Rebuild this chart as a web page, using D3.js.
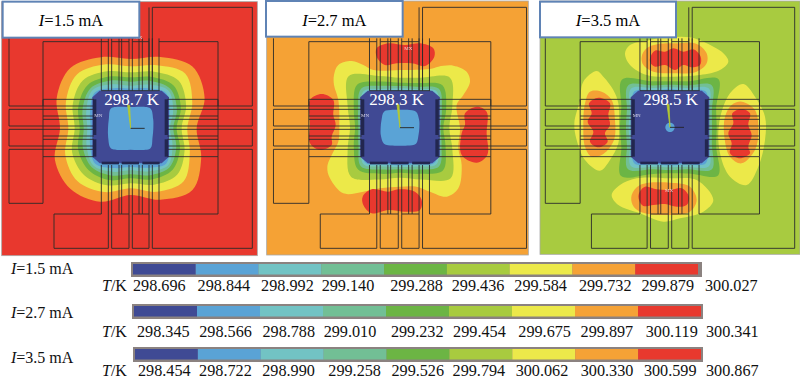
<!DOCTYPE html>
<html>
<head>
    <meta charset="utf-8">
    <title>Temperature fields</title>
    <script src="https://d3js.org/d3.v7.min.js"></script>
    <style>
        html, body { margin: 0; padding: 0; background: #fff; overflow: hidden; }
        text { font-family: "Liberation Serif", serif; }
    </style>
</head>
<body>
    <div id="chart"></div>
    <script>

        var bandColors = ["#3f4a94", "#5aa3d6", "#72c3c4", "#72bf95", "#6cb544", "#a8cb3f", "#ece94a", "#f5a236", "#e8392e"];

        var currents = ["1.5", "2.7", "3.5"];
        var minTemps = ["298.7 K", "298.3 K", "298.5 K"];

        var ticks15 = ["298.696", "298.844", "298.992", "299.140", "299.288", "299.436", "299.584", "299.732", "299.879", "300.027"];
        var ticks27 = ["298.345", "298.566", "298.788", "299.010", "299.232", "299.454", "299.675", "299.897", "300.119", "300.341"];
        var ticks35 = ["298.454", "298.722", "298.990", "299.258", "299.526", "299.794", "300.062", "300.330", "300.599", "300.867"];

        // isotherms: radius at 16 angles, clockwise from the top
        var rings15 = [
            [7, [208,232,262,240,198,229,262,232,200,238,256,246,212,240,256,231]],
            [6, [186,205,232,200,170,192,225,206,180,207,225,212,187,210,228,207]],
            [5, [168,184,203,180,153,175,197,183,165,185,198,190,168,188,203,185]],
            [4, [153,167,182,163,138,160,177,166,150,168,178,170,153,170,183,168]],
            [3, [140,154,168,150,128,148,165,152,138,153,165,155,141,156,170,155]],
            [2, [128,142,160,138,118,136,158,140,126,141,158,143,130,144,162,143]],
            [1, [119,130,150,127,112,126,150,128,116,129,150,132,120,132,152,130]]
        ];
        var rings27 = [
            [5, [150,162,212,170,148,170,215,168,150,168,208,170,150,170,218,168]],
            [4, [135,145,180,150,130,148,182,150,135,150,178,150,135,150,182,150]],
            [3, [125,133,165,136,122,135,165,136,125,136,165,135,125,136,165,136]],
            [2, [118,125,155,126,116,125,155,126,118,126,155,125,118,126,155,126]],
            [1, [113,119,148,119,111,118,148,119,113,119,148,118,113,120,148,119]]
        ];
        var rings35 = [
            [4, [138,150,205,150,140,150,204,150,138,152,207,158,150,158,203,150]],
            [3, [128,136,178,136,126,136,178,136,128,136,178,140,132,140,178,136]],
            [2, [120,128,165,128,118,128,165,128,120,128,165,130,124,130,165,128]],
            [1, [114,120,152,120,112,120,152,120,114,120,152,120,116,122,152,120]]
        ];

        // the light blue core around the minimum
        var core15 = [64,70,84,73,68,71,84,70,64,70,84,73,68,71,84,70];
        var core27 = [54,58,68,62,58,60,68,58,54,58,68,62,58,60,68,58];
        var core35 = [14,14,14,14,14,14,14,14,14,14,14,14,14,14,14,14];

        // hot spots and the yellow flower
        var blobs27 = [
            [6, [[207,225],[220,195],[260,183],[295,195],[325,210],[405,210],[495,207],[520,200],[565,197],[605,215],[615,245],[595,285],[575,315],[585,385],[580,445],[590,495],[580,565],[545,590],[495,575],[455,560],[405,560],[345,565],[295,575],[235,580],[195,535],[187,500],[205,455],[220,425],[223,375],[220,300],[207,255]]],
            [8, [[335,145],[370,130],[420,135],[465,130],[505,145],[508,170],[480,198],[440,190],[395,190],[360,195],[335,170]]],
            [8, [[135,300],[170,282],[205,300],[205,345],[212,375],[200,410],[200,435],[165,450],[135,430],[135,370]]],
            [8, [[600,340],[635,320],[665,335],[665,400],[667,465],[635,488],[590,465],[590,400],[600,375]]],
            [8, [[293,590],[320,568],[370,575],[400,568],[450,575],[470,600],[465,630],[420,635],[370,630],[320,640],[295,615]]]
        ];
        var blobs35 = [
            [6, [[270,160],[285,135],[335,122],[400,112],[465,112],[515,130],[565,160],[580,185],[555,210],[495,225],[415,230],[335,225],[285,195]]],
            [6, [[135,300],[145,245],[185,213],[205,230],[235,270],[250,310],[252,380],[250,430],[225,480],[195,512],[150,480],[125,420],[118,370]]],
            [6, [[553,365],[585,280],[625,252],[660,290],[690,350],[690,420],[670,500],[635,555],[585,530],[555,460]]],
            [6, [[230,585],[255,555],[305,535],[405,535],[485,540],[535,600],[505,635],[435,655],[385,665],[315,640],[250,615]]],
            [7, [[320,170],[335,145],[370,132],[425,130],[485,132],[515,160],[515,190],[485,215],[415,220],[355,215],[325,195]]],
            [7, [[165,275],[200,275],[230,300],[240,360],[237,420],[205,462],[170,470],[150,440],[145,380],[150,310]]],
            [7, [[570,350],[590,315],[620,305],[660,330],[670,400],[660,450],[620,490],[585,470],[568,410]]],
            [7, [[290,585],[315,555],[405,548],[465,560],[485,600],[465,635],[385,645],[315,635],[293,615]]],
            [8, [[345,175],[360,152],[390,155],[415,145],[445,155],[475,148],[497,170],[495,195],[470,202],[445,195],[420,210],[390,195],[360,200],[347,190]]],
            [8, [[162,310],[190,293],[225,310],[220,345],[225,375],[210,400],[218,425],[190,442],[165,425],[175,395],[158,365],[170,340]]],
            [8, [[592,340],[620,327],[645,340],[640,375],[650,405],[640,440],[645,460],[615,475],[585,460],[590,430],[580,400],[595,370]]],
            [8, [[312,580],[330,560],[365,568],[405,570],[440,565],[462,590],[455,615],[425,620],[390,612],[355,615],[325,618],[312,600]]]
        ];

        // chip layout, shared by the three panels
        var wireRows = [298,318,328,348,358,378,388,408,418,438,448,470];
        var wireCols = [302,323,333,355,363,385,395,415,425,445,455,475];
        var padLines = [
            [[25,115],[25,318],[127,318],[127,125],[323,125]],
            [[333,125],[385,125]],
            [[395,125],[445,125]],
            [[445,22],[445,270]],
            [[455,270],[455,22],[755,22],[755,318],[652,318],[652,125],[475,125]],
            [[25,328],[127,328]], [[25,328],[25,378],[127,378]],
            [[25,388],[127,388]], [[25,388],[25,438],[127,438]],
            [[127,448],[25,448],[25,610],[127,610],[127,470]],
            [[652,328],[755,328],[755,378],[652,378]],
            [[652,388],[755,388],[755,438],[652,438]],
            [[652,448],[755,448],[755,745],[455,745],[455,642]],
            [[475,642],[652,642],[652,470]],
            [[302,642],[160,642],[160,745],[323,745],[323,642]],
            [[333,642],[333,745],[385,745],[385,642]],
            [[395,642],[395,745],[445,745],[445,642]],
            [[333,642],[385,642]], [[395,642],[445,642]],
            [[127,298],[127,470]], [[652,298],[652,470]]
        ];
        var chipOutline = [[297,272],[483,272],[505,292],[505,470],[483,490],[297,490],[275,470],[275,292]];
        var chipPads = [
            [277,298,287,405], [277,418,287,470],
            [492,298,502,405], [492,418,502,470],
            [303,485,355,493], [363,485,415,493], [425,485,477,493]
        ];

        var svg = d3.select("#chart").append("svg")
            .attr("width", 800)
            .attr("height", 380)
            .style("display", "block");

        var defs = svg.append("defs");
        defs.append("filter").attr("id", "soft")
            .append("feGaussianBlur").attr("stdDeviation", 0.45);

        var panels = [
            {ox: 0, box: [5, 5, 772, 767], label: [5, 5, 415, 113], bg: 8, centre: [392, 385], struct: [25, 752], rings: rings15, core: core15, blobs: [], text: 395, mn: [295, 350], mx: [415, 116]},
            {ox: 265, box: [5, 3, 790, 765], label: [0, 3, 410, 110], bg: 7, centre: [405, 383], struct: [22, 778], rings: rings27, core: core27, blobs: blobs27, text: 395, mn: [300, 352], mx: [430, 150]},
            {ox: 535, box: [15, 3, 795, 763], label: [12, 5, 420, 112], bg: 5, centre: [405, 382], struct: [30, 775], rings: rings35, core: core35, blobs: blobs35, text: 407, mn: [305, 350], mx: [402, 575]}
        ];

        var r = d3.scaleLinear().domain([0, 810]).range([0, 270]);
        var y = d3.scaleLinear().domain([0, 810]).range([0, 270]);

        var radial = d3.lineRadial()
            .angle(function(d, i) { return i * Math.PI / 8; })
            .radius(function(d) { return r(d); })
            .curve(d3.curveCatmullRomClosed);

        panels.forEach(function(p, idx) {
            var x = d3.scaleLinear().domain([0, 810]).range([p.ox, p.ox + 270]);
            // structure coordinates are measured on the first panel
            var sx = d3.scaleLinear().domain([25, 752]).range([x(p.struct[0]), x(p.struct[1])]);
            var dx = x(p.centre[0]) - sx(390);

            var g = svg.append("g").attr("filter", "url(#soft)");

            g.append("rect")
                .attr("x", x(p.box[0])).attr("y", y(p.box[1]))
                .attr("width", x(p.box[2]) - x(p.box[0])).attr("height", y(p.box[3]) - y(p.box[1]))
                .attr("fill", bandColors[p.bg])
                .attr("stroke", "#a9a9a9").attr("stroke-width", 0.8);

            var blob = d3.line()
                .x(function(d) { return x(d[0]); })
                .y(function(d) { return y(d[1]); })
                .curve(d3.curveCatmullRomClosed);

            var centre = "translate(" + x(p.centre[0]) + "," + y(p.centre[1]) + ")";

            p.blobs.forEach(function(b) {
                g.append("path").attr("d", blob(b[1])).attr("fill", bandColors[b[0]]);
            });
            p.rings.forEach(function(ring) {
                g.append("path").attr("d", radial(ring[1]))
                    .attr("transform", centre)
                    .attr("fill", bandColors[ring[0]]);
            });

            var chipLine = d3.line()
                .x(function(d) { return sx(d[0]) + dx; })
                .y(function(d) { return y(d[1]); });

            g.append("path")
                .attr("d", chipLine(chipOutline) + "Z")
                .attr("fill", bandColors[0]);

            g.append("path").attr("d", radial(p.core))
                .attr("transform", centre)
                .attr("fill", bandColors[1]);

            // wires
            var lines = g.append("g").attr("fill", "none").attr("stroke", "#2b2b2b").attr("stroke-width", 0.9);
            wireRows.forEach(function(v) {
                lines.append("path").attr("d", chipLine([[127, v], [280, v]]));
                lines.append("path").attr("d", chipLine([[500, v], [652, v]]));
            });
            wireCols.forEach(function(v) {
                lines.append("path").attr("d", chipLine([[v, 115], [v, 272]]));
                lines.append("path").attr("d", chipLine([[v, 495], [v, 642]]));
            });
            padLines.forEach(function(l) {
                lines.append("path").attr("d", chipLine(l));
            });
            lines.append("path").attr("d", chipLine([[302, 272], [477, 272]]));

            chipPads.forEach(function(c) {
                g.append("rect")
                    .attr("x", sx(c[0]) + dx).attr("y", y(c[1]))
                    .attr("width", sx(c[2]) - sx(c[0])).attr("height", y(c[3]) - y(c[1]))
                    .attr("fill", "#23284f");
            });

            // coordinate triad
            var cx = x(p.centre[0]), cy = y(p.centre[1]);
            g.append("path")
                .attr("d", "M" + cx + "," + cy + "L" + (cx - 3) + "," + (cy - 23) + "L" + (cx - 1) + "," + (cy - 23) + "Z")
                .attr("fill", "#b5c92f").attr("stroke", "#b5c92f").attr("stroke-width", 0.8);
            g.append("line")
                .attr("x1", cx).attr("y1", cy).attr("x2", cx + 14).attr("y2", cy)
                .attr("stroke", "#222").attr("stroke-width", 0.9);

            g.append("text").attr("x", x(p.mn[0])).attr("y", y(p.mn[1]))
                .attr("text-anchor", "middle").attr("fill", "#d8d4e8")
                .style("font-size", "5px").text("MN");
            g.append("text").attr("x", x(p.mx[0])).attr("y", y(p.mx[1]))
                .attr("text-anchor", "middle").attr("fill", "#f2d0d0")
                .style("font-size", "5px").text("MX");

            svg.append("text")
                .attr("x", x(p.text)).attr("y", 105)
                .attr("text-anchor", "middle")
                .attr("fill", "#fff")
                .style("font-size", "17px")
                .text(minTemps[idx]);

            svg.append("rect")
                .attr("x", x(p.label[0]) + 1).attr("y", y(p.label[1]))
                .attr("width", x(p.label[2]) - x(p.label[0])).attr("height", y(p.label[3]) - y(p.label[1]))
                .attr("fill", "#fff")
                .attr("stroke", "#5f83b5").attr("stroke-width", 2);

            var lab = svg.append("text")
                .attr("x", (x(p.label[0]) + x(p.label[2])) / 2 + 1)
                .attr("y", 26)
                .attr("text-anchor", "middle")
                .style("font-size", "16.5px");
            lab.append("tspan").style("font-style", "italic").text("I");
            lab.append("tspan").text("=" + currents[idx] + " mA");
        });

        // colour bars
        var rows = [
            {ticks: ticks15, top: 262, frame: [131, 702], bar: [133, 698], labels: [133, 705], base: 291, name: 274, nudge: [0,1,1,-2,3,1,0,1,0,0]},
            {ticks: ticks27, top: 304, frame: [132, 703], bar: [134, 701], labels: [137, 706], base: 337, name: 318, nudge: [0,-1,-1,-3,1,0,2,1,3,0]},
            {ticks: ticks35, top: 347, frame: [133, 703], bar: [135, 701], labels: [138, 706], base: 376.4, name: 363, nudge: [0,-2,-2,1,1,-1,-1,1,1,0]}
        ];

        rows.forEach(function(row, idx) {
            var g = svg.append("g");
            var band = d3.scaleBand().domain(d3.range(bandColors.length)).range(row.bar);
            var tick = d3.scalePoint().domain(d3.range(row.ticks.length)).range(row.labels);

            g.append("rect")
                .attr("x", row.frame[0]).attr("y", row.top)
                .attr("width", row.frame[1] - row.frame[0]).attr("height", 15)
                .attr("fill", "#8b8280");

            g.selectAll(".seg").data(bandColors).enter().append("rect")
                .attr("class", "seg")
                .attr("x", function(d, i) { return band(i); })
                .attr("y", row.top + 2)
                .attr("width", band.bandwidth())
                .attr("height", 10.5)
                .attr("fill", function(d) { return d; });

            g.selectAll(".tick").data(row.ticks).enter().append("text")
                .attr("class", "tick")
                .attr("x", function(d, i) { return tick(i) + row.nudge[i]; })
                .attr("y", row.base)
                .style("font-size", "16.2px")
                .attr("fill", "#111")
                .text(function(d) { return d; });

            var t = g.append("text").attr("x", 102).attr("y", row.base).style("font-size", "16px").attr("fill", "#111");
            t.append("tspan").style("font-style", "italic").text("T");
            t.append("tspan").text("/K");

            var n = g.append("text").attr("x", 11).attr("y", row.name).style("font-size", "16px").attr("fill", "#111");
            n.append("tspan").style("font-style", "italic").text("I");
            n.append("tspan").text("=" + currents[idx] + " mA");
        });

    </script>
</body>
</html>
